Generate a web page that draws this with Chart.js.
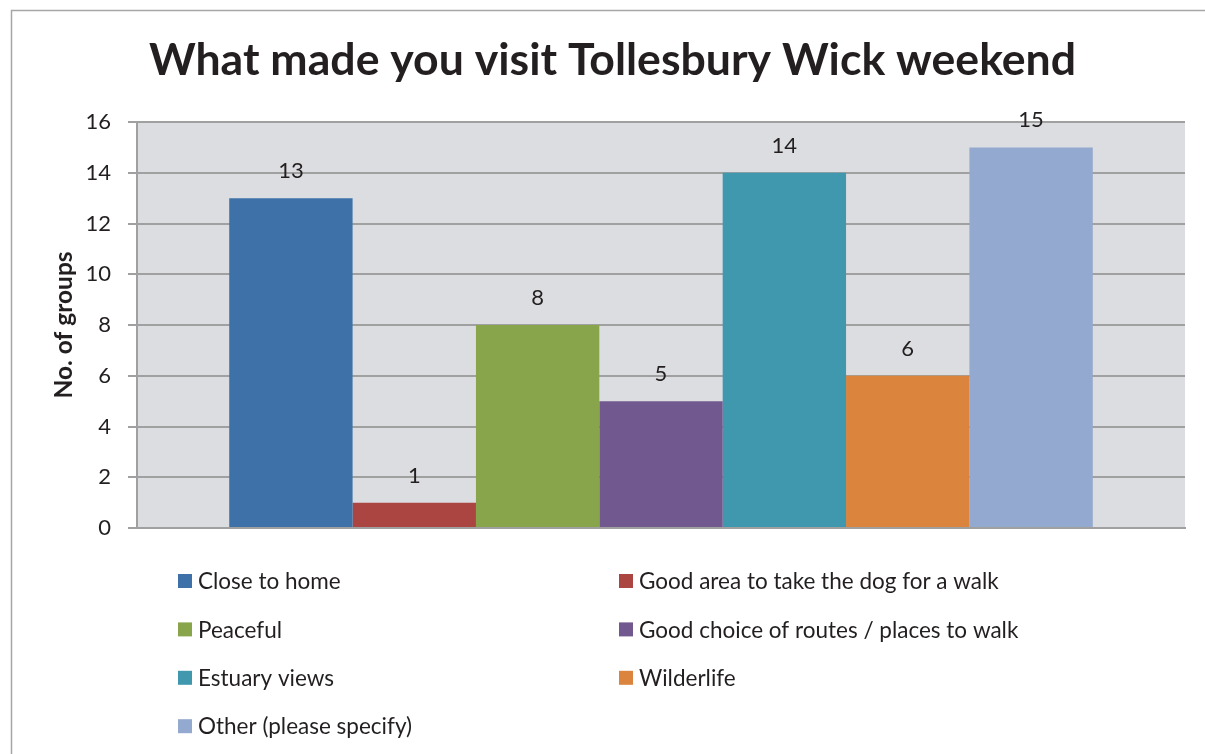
<!DOCTYPE html>
<html><head><meta charset="utf-8">
<script src="https://cdn.jsdelivr.net/npm/chart.js@4.4.0/dist/chart.umd.min.js"></script>
<style>html,body{margin:0;padding:0;background:#fff;overflow:hidden}#wrap{width:1205px;height:754px;position:relative}</style>
</head><body><div id="wrap"><canvas id="c" width="1205" height="754"></canvas></div>
<script>
const chartTitle = 'What made you visit Tollesbury Wick weekend';
const yAxisTitle = 'No. of groups';
const categories = [''];
const seriesNames = ['Close to home', 'Good area to take the dog for a walk', 'Peaceful', 'Good choice of routes / places to walk', 'Estuary views', 'Wilderlife', 'Other (please specify)'];
const seriesValues = [13, 1, 8, 5, 14, 6, 15];
const seriesColors = ['#3E71A8', '#AB4542', '#89A54C', '#71588F', '#4098AF', '#DB843D', '#93A9CF'];
const yMin = 0, yMax = 16, yStep = 2;

const FONT = 'Lato, "Open Sans", sans-serif';
const TEXT = '#231F20';

const bgPlugin = {
  id: 'bg',
  beforeDraw(chart) {
    const {ctx, chartArea: a} = chart;
    ctx.save();
    ctx.fillStyle = '#DCDDE0';
    ctx.fillRect(a.left, a.top, a.right - a.left, a.bottom - a.top);
    ctx.strokeStyle = '#A6A6A6';
    ctx.lineWidth = 1.5;
    ctx.beginPath();
    ctx.moveTo(11.5, chart.height + 5);
    ctx.lineTo(11.5, 10.5);
    ctx.lineTo(chart.width + 5, 10.5);
    ctx.stroke();
    ctx.restore();
  }
};

const labelPlugin = {
  id: 'vals',
  afterDatasetsDraw(chart) {
    const {ctx} = chart;
    ctx.save();
    ctx.font = '22px ' + FONT;
    ctx.fillStyle = TEXT;
    ctx.textAlign = 'center';
    ctx.textBaseline = 'middle';
    chart.data.datasets.forEach((ds, i) => {
      const meta = chart.getDatasetMeta(i);
      meta.data.forEach((bar, j) => {
        ctx.fillText(String(ds.data[j]), bar.x, bar.y - 27);
      });
    });
    ctx.restore();
  }
};

const legendPlugin = {
  id: 'gridLegend',
  afterDraw(chart) {
    const {ctx, chartArea: a} = chart;
    ctx.save();
    ctx.font = '22.5px ' + FONT;
    ctx.textBaseline = 'middle';
    const colX = [a.left + 41, a.left + 482];
    const rowY0 = a.bottom + 53, rowGap = 48.4, box = 14;
    chart.data.datasets.forEach((ds, i) => {
      const x = colX[i % 2], y = rowY0 + Math.floor(i / 2) * rowGap;
      ctx.fillStyle = ds.backgroundColor;
      ctx.fillRect(x, y - box / 2, box, box);
      ctx.fillStyle = TEXT;
      ctx.fillText(ds.label, x + box + 6, y + 1);
    });
    ctx.restore();
  }
};

new Chart(document.getElementById('c'), {
  type: 'bar',
  data: {
    labels: categories,
    datasets: seriesNames.map((n, i) => ({
      label: n,
      data: [seriesValues[i]],
      backgroundColor: seriesColors[i],
      borderWidth: 0,
      categoryPercentage: 0.824,
      barPercentage: 1.0
    }))
  },
  options: {
    responsive: false,
    animation: false,
    devicePixelRatio: 1,
    layout: {padding: {top: 18, left: 40, right: 20, bottom: 218}},
    plugins: {
      legend: {display: false},
      tooltip: {enabled: false},
      title: {
        display: true,
        text: chartTitle,
        color: TEXT,
        font: {family: FONT, size: 44.6, weight: 'bold', lineHeight: 1.2},
        padding: {top: 16, bottom: 34.5}
      }
    },
    scales: {
      x: {
        ticks: {display: false},
        grid: {display: false},
        border: {display: true, color: '#A0A0A0', width: 2}
      },
      y: {
        min: yMin, max: yMax,
        afterFit(scale) { scale.width = 97; },
        ticks: {stepSize: yStep, color: TEXT, font: {family: FONT, size: 22}, padding: 17},
        grid: {color: '#A0A0A0', lineWidth: 2, tickLength: 9},
        border: {display: true, color: '#A0A0A0', width: 2},
        title: {display: true, text: yAxisTitle, color: TEXT, font: {family: FONT, size: 24.5, weight: 'bold', lineHeight: 1.2}, padding: {top: 9.3, bottom: 0}}
      }
    }
  },
  plugins: [bgPlugin, labelPlugin, legendPlugin]
});
</script></body></html>
